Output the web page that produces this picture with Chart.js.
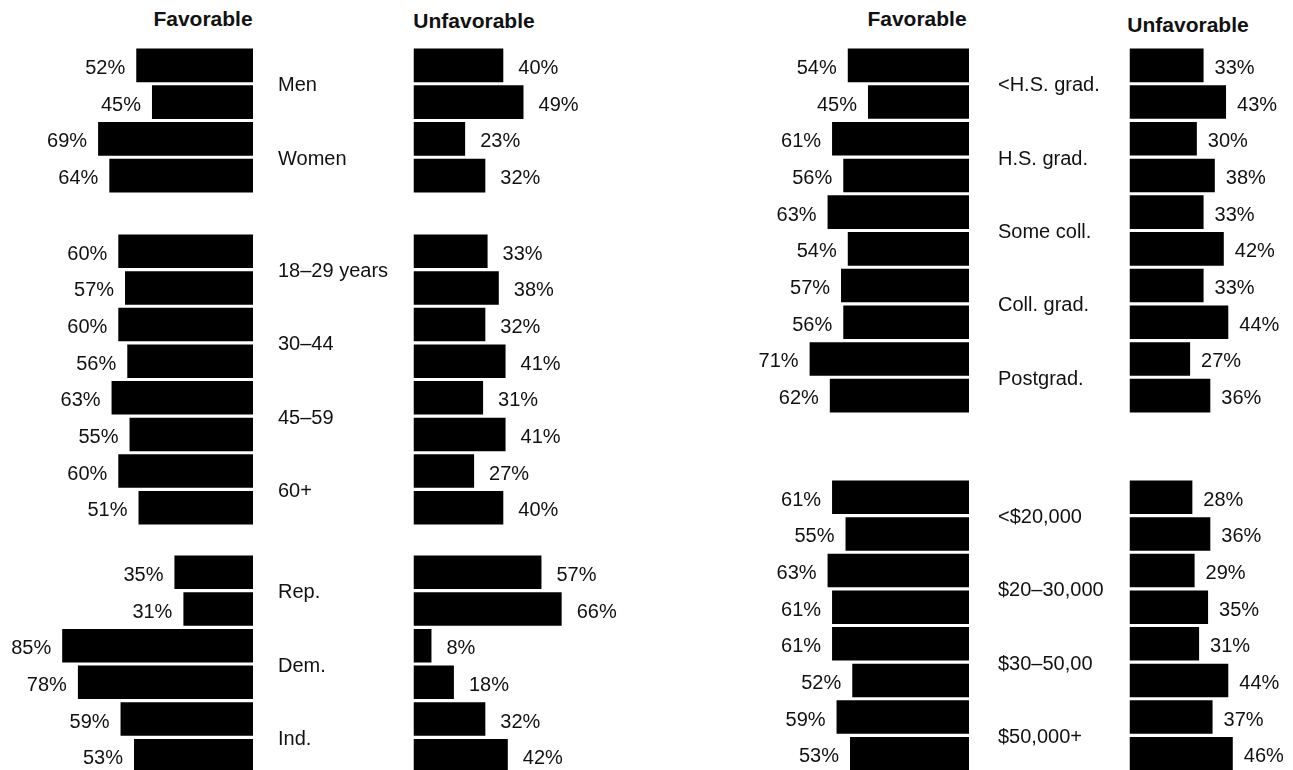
<!DOCTYPE html>
<html>
<head>
<meta charset="utf-8">
<title>Favorable / Unfavorable</title>
<script src="https://cdn.jsdelivr.net/npm/chart.js@4"></script>
<style>
    html, body { margin: 0; padding: 0; background: #fff; }
    body { width: 1293px; height: 770px; position: relative; overflow: hidden; font-family: "Liberation Sans", Arial, sans-serif; }
    canvas { position: absolute; }
    .head { position: absolute; font: bold 21px "Liberation Sans", Arial, sans-serif; color: #111; line-height: 21px; transform: translateX(-50%); white-space: nowrap; }
</style>
</head>
<body>
<div class="head" style="left:203px;top:8px">Favorable</div>
<div class="head" style="left:474px;top:10px">Unfavorable</div>
<div class="head" style="left:917px;top:8px">Favorable</div>
<div class="head" style="left:1188px;top:14px">Unfavorable</div>
<script>
// each category has two rows (two polls), favorable and unfavorable in percent
const sexLabels = ['Men', 'Women'];
const sexFav = [52, 45, 69, 64];
const sexUnfav = [40, 49, 23, 32];

const ageLabels = ['18–29 years', '30–44', '45–59', '60+'];
const ageFav = [60, 57, 60, 56, 63, 55, 60, 51];
const ageUnfav = [33, 38, 32, 41, 31, 41, 27, 40];

const partyLabels = ['Rep.', 'Dem.', 'Ind.'];
const partyFav = [35, 31, 85, 78, 59, 53];
const partyUnfav = [57, 66, 8, 18, 32, 42];

const eduLabels = ['<H.S. grad.', 'H.S. grad.', 'Some coll.', 'Coll. grad.', 'Postgrad.'];
const eduFav = [54, 45, 61, 56, 63, 54, 57, 56, 71, 62];
const eduUnfav = [33, 43, 30, 38, 33, 42, 33, 44, 27, 36];

const incomeLabels = ['<$20,000', '$20–30,000', '$30–50,00', '$50,000+'];
const incomeFav = [61, 55, 63, 61, 61, 52, 59, 53];
const incomeUnfav = [28, 36, 29, 35, 31, 44, 37, 46];

const PX = 2.245;      // pixels per percent point
const PITCH = 36.65;   // row height
const FONT = '20px "Liberation Sans", Arial, sans-serif';
const INK = '#111';

const panels = {
    left:  { favCanvas: 0,   favRight: 253, nameGap: 25, unfavCanvas: 400,  unfavLeft: 413.5,  unfavWidth: 300, unfavMax: 100, gapFav: 11, gapUnfav: 15 },
    right: { favCanvas: 720, favRight: 969, nameGap: 29, unfavCanvas: 1120, unfavLeft: 1129.5, unfavWidth: 173, unfavMax: 60,  gapFav: 11, gapUnfav: 11 }
};

const barLabels = {
    id: 'barLabels',
    afterDatasetsDraw(chart, args, opts) {
        const ctx = chart.ctx;
        const meta = chart.getDatasetMeta(0);
        const values = chart.data.datasets[0].data;
        ctx.save();
        ctx.font = FONT;
        ctx.fillStyle = INK;
        ctx.textBaseline = 'middle';
        ctx.textAlign = opts.fav ? 'right' : 'left';
        meta.data.forEach((bar, i) => {
            const x = opts.fav ? bar.x - opts.gap : bar.x + opts.gap;
            ctx.fillText(values[i] + '%', x, bar.y + 3);
        });
        if (opts.names) {
            ctx.textAlign = 'left';
            opts.names.forEach((name, k) => {
                const y = (meta.data[2 * k].y + meta.data[2 * k + 1].y) / 2;
                ctx.fillText(name, chart.chartArea.right + opts.nameGap, y + 2);
            });
        }
        ctx.restore();
    }
};

function rowLabels(names) {
    const out = [];
    names.forEach(n => { out.push(n + ' (1)'); out.push(n + ' (2)'); });
    return out;
}

function barChart(left, top, width, height, padding, names, values, xOpts, labelOpts) {
    const canvas = document.createElement('canvas');
    canvas.width = width;
    canvas.height = height;
    canvas.style.left = left + 'px';
    canvas.style.top = top + 'px';
    document.body.appendChild(canvas);
    return new Chart(canvas.getContext('2d'), {
        type: 'bar',
        data: {
            labels: rowLabels(names),
            datasets: [{
                data: values,
                backgroundColor: '#000',
                borderWidth: 0,
                barPercentage: 0.915,
                categoryPercentage: 1
            }]
        },
        options: {
            indexAxis: 'y',
            responsive: false,
            animation: false,
            layout: { padding: padding },
            plugins: {
                legend: { display: false },
                tooltip: { enabled: false },
                barLabels: labelOpts
            },
            scales: {
                x: Object.assign({ display: false, min: 0 }, xOpts),
                y: { display: false }
            }
        },
        plugins: [barLabels]
    });
}

function group(panel, firstCenter, names, fav, unfav) {
    const p = panels[panel];
    const top = Math.round(firstCenter - PITCH / 2);
    const height = Math.round(fav.length * PITCH);

    // favorable: bars grow to the left from favRight
    const favWidth = 400;
    const favLeftPad = p.favRight - p.favCanvas - 100 * PX;
    barChart(p.favCanvas, top, favWidth, height,
        { left: favLeftPad, right: p.favCanvas + favWidth - p.favRight, top: 0, bottom: 0 },
        names, fav, { max: 100, reverse: true },
        { fav: true, gap: p.gapFav, names: names, nameGap: p.nameGap });

    // unfavorable: bars grow to the right from unfavLeft
    const padL = p.unfavLeft - p.unfavCanvas;
    barChart(p.unfavCanvas, top, p.unfavWidth, height,
        { left: padL, right: p.unfavWidth - padL - p.unfavMax * PX, top: 0, bottom: 0 },
        names, unfav, { max: p.unfavMax },
        { fav: false, gap: p.gapUnfav });
}

group('left', 65, sexLabels, sexFav, sexUnfav);
group('left', 251, ageLabels, ageFav, ageUnfav);
group('left', 572, partyLabels, partyFav, partyUnfav);
group('right', 65, eduLabels, eduFav, eduUnfav);
group('right', 497, incomeLabels, incomeFav, incomeUnfav);
</script>
</body>
</html>
